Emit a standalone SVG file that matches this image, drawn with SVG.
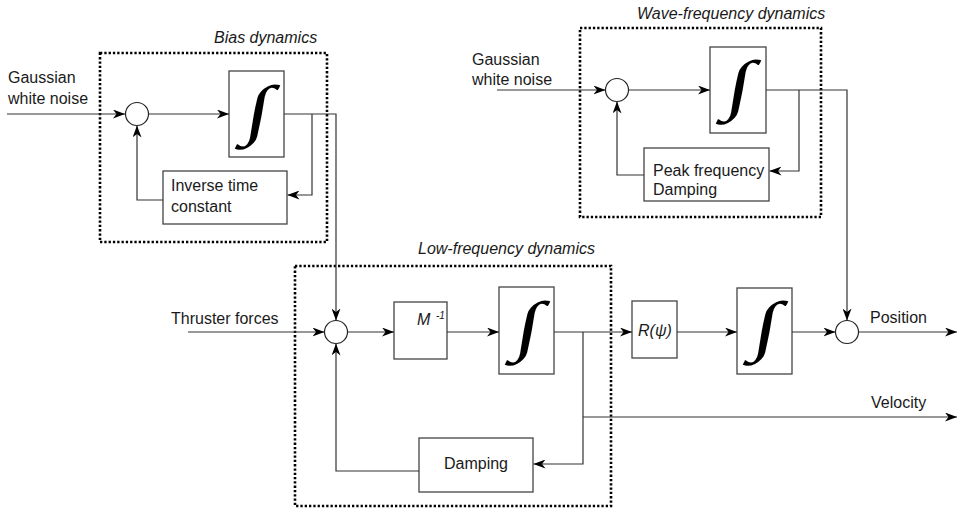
<svg xmlns="http://www.w3.org/2000/svg" width="958" height="509" viewBox="0 0 958 509">
<defs>
<marker id="arr" viewBox="0 0 12 9" refX="12" refY="4.5" markerWidth="12" markerHeight="9" markerUnits="userSpaceOnUse" orient="auto">
<path d="M0,0 L12,4.5 L0,9 L3.5,4.5 Z" fill="#000"/>
</marker>
</defs>
<style>
text{font-family:"Liberation Sans",Arial,sans-serif;font-size:16px;fill:#1a1a1a}
.it{font-style:italic}
.box{fill:#fff;stroke:#444;stroke-width:1.3}
.dot{fill:none;stroke:#000;stroke-width:2.6;stroke-dasharray:2.3 2}
.sum{fill:#fff;stroke:#222;stroke-width:1.2}
.ln{fill:none;stroke:#333;stroke-width:1.2}
.intg{font-family:"Liberation Serif","DejaVu Serif",serif;font-size:70px;fill:#000;text-anchor:middle}
</style>

<g id="bias-dynamics">
<rect class="dot" x="100" y="53" width="227" height="189"/>
<text class="it" x="214" y="43">Bias dynamics</text>
</g>
<g id="wave-dynamics">
<rect class="dot" x="580" y="28" width="241" height="189"/>
<text class="it" x="637" y="19">Wave-frequency dynamics</text>
</g>
<g id="lf-dynamics">
<rect class="dot" x="295" y="266" width="316" height="240"/>
<text class="it" x="418" y="254">Low-frequency dynamics</text>
</g>

<g id="labels">
<text x="8" y="83">Gaussian</text>
<text x="8" y="104">white noise</text>
<text x="472" y="65">Gaussian</text>
<text x="472" y="85">white noise</text>
<text x="171" y="324">Thruster forces</text>
<text x="870" y="323">Position</text>
<text x="871" y="408">Velocity</text>
</g>

<g id="bias-sum"><circle class="sum" cx="137" cy="114" r="11.5"/></g>
<g id="bias-int"><rect class="box" x="229" y="71" width="55" height="86"/><text class="intg" transform="translate(255,131.5) skewX(-10) scale(1.3,0.95)">∫</text></g>
<g id="bias-gain"><rect class="box" x="163" y="171" width="124" height="53"/><text x="171" y="191">Inverse time</text><text x="171" y="212">constant</text></g>

<g id="wave-sum"><circle class="sum" cx="617" cy="90" r="11.5"/></g>
<g id="wave-int"><rect class="box" x="710" y="47" width="56" height="86"/><text class="intg" transform="translate(736,107) skewX(-10) scale(1.3,0.95)">∫</text></g>
<g id="wave-gain"><rect class="box" x="644" y="148" width="125" height="53"/><text x="653" y="176">Peak frequency</text><text x="653" y="195">Damping</text></g>

<g id="lf-sum"><circle class="sum" cx="336" cy="332" r="11.5"/></g>
<g id="minv"><rect class="box" x="394" y="302" width="53" height="57"/><text class="it" x="417" y="325">M</text><text class="it" x="436" y="319" style="font-size:10px">-1</text></g>
<g id="lf-int"><rect class="box" x="499" y="287" width="55" height="87"/><text class="intg" transform="translate(525,347.5) skewX(-10) scale(1.3,0.95)">∫</text></g>
<g id="damping"><rect class="box" x="419" y="438" width="114" height="54"/><text x="476" y="469" text-anchor="middle">Damping</text></g>
<g id="rot"><rect class="box" x="632" y="301" width="45" height="57"/><text class="it" x="655" y="336" text-anchor="middle">R(ψ)</text></g>
<g id="pos-int"><rect class="box" x="737" y="288" width="55" height="86"/><text class="intg" transform="translate(763,348) skewX(-10) scale(1.3,0.95)">∫</text></g>
<g id="pos-sum"><circle class="sum" cx="847" cy="332" r="11.5"/></g>

<g id="connectors">
<path class="ln" d="M7,114 H125" marker-end="url(#arr)"/>
<path class="ln" d="M148.5,114 H229" marker-end="url(#arr)"/>
<path class="ln" d="M284,114 H336 V320.5" marker-end="url(#arr)"/>
<path class="ln" d="M312,114 V195 H287.5" marker-end="url(#arr)"/>
<path class="ln" d="M163,200 H137 V125.5" marker-end="url(#arr)"/>

<path class="ln" d="M497,90 H605.5" marker-end="url(#arr)"/>
<path class="ln" d="M628.5,90 H710" marker-end="url(#arr)"/>
<path class="ln" d="M766,90 H847 V320.5" marker-end="url(#arr)"/>
<path class="ln" d="M799,90 V171 H769.5" marker-end="url(#arr)"/>
<path class="ln" d="M644,175 H617 V101.5" marker-end="url(#arr)"/>

<path class="ln" d="M188,332 H324.5" marker-end="url(#arr)"/>
<path class="ln" d="M347.5,332 H394" marker-end="url(#arr)"/>
<path class="ln" d="M447,332 H499" marker-end="url(#arr)"/>
<path class="ln" d="M554,332 H632" marker-end="url(#arr)"/>
<path class="ln" d="M583,332 V464 H533.5" marker-end="url(#arr)"/>
<path class="ln" d="M583,417 H957" marker-end="url(#arr)"/>
<path class="ln" d="M419,471 H336 V343.5" marker-end="url(#arr)"/>
<path class="ln" d="M677,332 H737" marker-end="url(#arr)"/>
<path class="ln" d="M792,332 H835.5" marker-end="url(#arr)"/>
<path class="ln" d="M858.5,332 H957" marker-end="url(#arr)"/>
</g>
</svg>
